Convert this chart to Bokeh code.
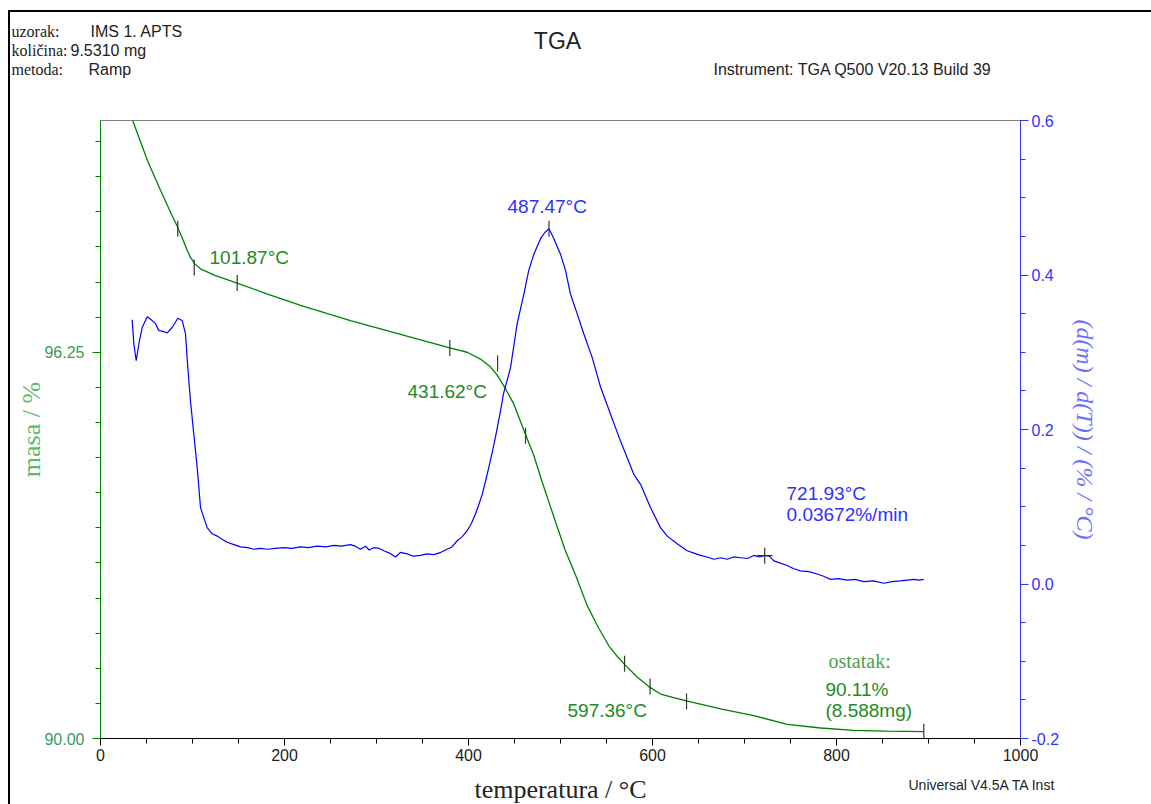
import math
from bokeh.plotting import figure
from bokeh.layouts import column
from bokeh.models import Range1d, LinearAxis, FixedTicker, NumeralTickFormatter, Label
from bokeh.embed import file_html
from bokeh.resources import INLINE

# ---------------- data ----------------
# TGA mass curve: temperature (°C) and mass (%)
tga_temp = [34.4, 35.5, 50.8, 65.2, 77.9, 84.0, 90.0, 94.2, 98.0, 102.5,
            108.7, 125.0, 148.6, 180.0, 217.4, 271.7, 326.1, 379.7, 398.5, 413.0,
            424.0, 431.2, 440.2, 449.3, 462.0, 471.0, 480.1, 492.0, 505.0, 517.0,
            529.0, 541.0, 552.5, 561.0, 569.6, 583.0, 596.0, 608.7, 622.0, 637.0,
            673.9, 710.1, 746.4, 782.6, 818.8, 855.1, 894.9]
tga_mass = [100.03, 99.98, 99.36, 98.87, 98.46, 98.27, 98.06, 97.90, 97.78, 97.68,
            97.60, 97.49, 97.37, 97.20, 97.01, 96.76, 96.54, 96.32, 96.25, 96.14,
            96.01, 95.88, 95.66, 95.41, 94.92, 94.58, 94.15, 93.62, 93.05, 92.62,
            92.15, 91.80, 91.50, 91.34, 91.20, 91.00, 90.84, 90.72, 90.665, 90.61,
            90.48, 90.37, 90.23, 90.17, 90.13, 90.12, 90.11]

# DTG curve: temperature (°C) and d(m)/d(T) (%/°C)
dtg_temp = [34.4, 36.2, 38.8, 41.7, 45.3, 50.8, 56.2, 59.8, 63.4, 68.0,
            72.5, 77.9, 84.0, 88.8, 92.4, 94.9, 97.8, 101.4, 105.1, 108.7,
            112.3, 115.9, 121.4, 126.8, 132.0, 137.7, 145.0, 152.2, 160.0, 166.7,
            174.0, 181.2, 190.0, 199.3, 208.0, 217.4, 226.0, 235.5, 245.0, 253.6,
            262.0, 271.7, 277.0, 282.6, 288.0, 292.0, 297.1, 303.0, 308.0, 314.0,
            320.7, 326.0, 333.4, 340.0, 347.8, 355.0, 362.3, 370.0, 376.8, 382.0,
            387.7, 393.0, 398.6, 403.0, 407.6, 411.0, 414.9, 418.5, 422.1, 425.7,
            429.3, 434.8, 438.0, 445.7, 452.9, 460.1, 465.5, 471.0, 478.3, 483.0,
            487.5, 492.8, 500.0, 505.4, 510.9, 518.1, 525.3, 534.5, 543.5, 554.3,
            565.2, 579.7, 587.0, 597.8, 608.7, 616.0, 626.8, 637.7, 645.0, 652.2,
            659.0, 666.7, 674.0, 681.2, 688.0, 695.7, 703.0, 710.1, 716.0, 721.9,
            727.0, 731.9, 739.0, 746.4, 753.0, 760.9, 770.0, 779.0, 786.0, 793.5,
            802.0, 811.6, 820.0, 829.7, 840.0, 851.4, 860.0, 869.6, 877.0, 884.1,
            890.0, 894.9]
dtg_rate = [0.342, 0.311, 0.289, 0.311, 0.332, 0.346, 0.341, 0.337, 0.328, 0.327,
            0.325, 0.332, 0.344, 0.341, 0.324, 0.280, 0.237, 0.194, 0.151, 0.099,
            0.086, 0.073, 0.065, 0.062, 0.058, 0.054, 0.051, 0.048, 0.047, 0.045,
            0.046, 0.045, 0.046, 0.047, 0.046, 0.048, 0.047, 0.049, 0.048, 0.050,
            0.049, 0.051, 0.049, 0.045, 0.049, 0.044, 0.047, 0.046, 0.043, 0.040,
            0.035, 0.041, 0.039, 0.036, 0.037, 0.039, 0.038, 0.041, 0.045, 0.048,
            0.056, 0.061, 0.069, 0.078, 0.091, 0.102, 0.116, 0.133, 0.151, 0.170,
            0.190, 0.224, 0.246, 0.280, 0.337, 0.375, 0.406, 0.427, 0.447, 0.455,
            0.460, 0.447, 0.427, 0.406, 0.375, 0.350, 0.324, 0.293, 0.255, 0.220,
            0.185, 0.142, 0.129, 0.099, 0.073, 0.062, 0.052, 0.043, 0.040, 0.037,
            0.035, 0.032, 0.034, 0.032, 0.035, 0.034, 0.033, 0.037, 0.035, 0.037,
            0.036, 0.030, 0.027, 0.024, 0.020, 0.017, 0.016, 0.013, 0.010, 0.006,
            0.007, 0.005, 0.006, 0.003, 0.004, 0.001, 0.003, 0.004, 0.005, 0.006,
            0.005, 0.006]

# analysis marks on the TGA curve
tga_mark_temp = [84.0, 101.87, 148.6, 379.7, 431.62, 462.0, 569.6, 597.36, 637.0, 894.9]
tga_mark_mass = [98.25, 97.62, 97.37, 96.32, 96.07, 94.90, 91.21, 90.84, 90.60, 90.11]
# analysis marks on the DTG curve
dtg_peak_temp = [487.47]
dtg_peak_rate = [0.460]
dtg_point_temp = [721.93]
dtg_point_rate = [0.03672]

# tick values
x_major = [0, 200, 400, 600, 800, 1000]
x_minor = [0, 50, 100, 150, 200, 250, 300, 350, 400, 450, 500,
           550, 600, 650, 700, 750, 800, 850, 900, 950, 1000]
mass_major = [90.00, 96.25]
mass_minor = [round(90 + k * 6.25 / 11, 4) for k in range(18)]
dtg_major = [-0.2, 0.0, 0.2, 0.4, 0.6]
dtg_minor = [round(-0.2 + 0.05 * k, 3) for k in range(17)]

GREEN = "#008000"
GREEN_TXT = "#228b22"
BLUE = "#0000ff"
BLUE_TXT = "#3030ff"
SANS = "Liberation Sans"
SERIF = "Liberation Serif"
W = 1141

# ---------------- header strip ----------------
head = figure(width=W, height=98, min_border=0, x_range=Range1d(0, 1), y_range=Range1d(0, 1),
              x_axis_location=None, y_axis_location=None,
              output_backend="svg", toolbar_location=None)
head.grid.visible = False
head.outline_line_color = None
head.frame_align = False


def slabel(fig, sx, sy, text, font=SANS, size="16px", color="#222222", align="left"):
    fig.add_layout(Label(x=sx, y=sy, x_units="screen", y_units="screen", text=text,
                         text_font=font, text_font_size=size, text_color=color,
                         text_baseline="middle", text_align=align))


slabel(head, 1, 79, "uzorak:", font=SERIF)
slabel(head, 80, 79, "IMS 1. APTS")
slabel(head, 1, 60, "količina:", font=SERIF)
slabel(head, 60, 60, "9.5310 mg")
slabel(head, 1, 41, "metoda:", font=SERIF)
slabel(head, 78, 41, "Ramp")
slabel(head, 547, 70, "TGA", size="23px", align="center")
slabel(head, 703, 41, "Instrument: TGA Q500 V20.13 Build 39")

# ---------------- main figure ----------------
p = figure(frame_width=920, frame_height=618,
           min_border_left=90, min_border_right=131,
           min_border_top=10, min_border_bottom=66,
           x_range=Range1d(0, 1000), y_range=Range1d(90, 100),
           output_backend="svg", toolbar_location=None)
p.extra_y_ranges = {"dtg": Range1d(-0.2, 0.6)}
p.xgrid.visible = False
p.ygrid.visible = False
p.outline_line_color = "#808080"
p.background_fill_color = "white"
p.border_fill_color = "white"

# x axis
xa = p.xaxis[0]
xa.ticker = FixedTicker(ticks=x_major, minor_ticks=x_minor)
xa.axis_line_color = "black"
xa.major_tick_line_color = "black"
xa.minor_tick_line_color = "black"
xa.major_tick_in = 0
xa.major_tick_out = 7
xa.minor_tick_in = 0
xa.minor_tick_out = 5
xa.major_label_standoff = 3
xa.major_label_text_font = SANS
xa.major_label_text_font_size = "16px"
xa.major_label_text_color = "#222222"
xa.axis_label = "temperatura / °C"
xa.axis_label_text_font = SERIF
xa.axis_label_text_font_style = "normal"
xa.axis_label_text_font_size = "26px"
xa.axis_label_text_color = "#222222"
xa.axis_label_standoff = 11

# left axis (mass)
ya = p.yaxis[0]
ya.ticker = FixedTicker(ticks=mass_major, minor_ticks=mass_minor)
ya.formatter = NumeralTickFormatter(format="0.00")
ya.axis_line_color = GREEN
ya.major_tick_line_color = GREEN
ya.minor_tick_line_color = GREEN
ya.major_tick_in = 0
ya.major_tick_out = 8
ya.minor_tick_in = 0
ya.minor_tick_out = 5
ya.major_label_standoff = 8
ya.major_label_text_font = SANS
ya.major_label_text_font_size = "16px"
ya.major_label_text_color = "#3a9a5c"
ya.axis_label = "masa / %"
ya.axis_label_text_font = SERIF
ya.axis_label_text_font_style = "normal"
ya.axis_label_text_font_size = "26px"
ya.axis_label_text_color = "#5fb86a"
ya.axis_label_standoff = -5

# right axis (DTG)
ra = LinearAxis(y_range_name="dtg",
                ticker=FixedTicker(ticks=dtg_major, minor_ticks=dtg_minor),
                formatter=NumeralTickFormatter(format="0.0"))
ra.axis_line_color = "#3333ff"
ra.major_tick_line_color = "#3333ff"
ra.minor_tick_line_color = "#3333ff"
ra.major_tick_in = 0
ra.major_tick_out = 8
ra.minor_tick_in = 0
ra.minor_tick_out = 5
ra.major_label_standoff = 3
ra.major_label_text_font = SANS
ra.major_label_text_font_size = "16px"
ra.major_label_text_color = "#3333ff"
ra.axis_label = "(d(m) / d(T)) / (% / °C)"
ra.axis_label_text_font = SERIF
ra.axis_label_text_font_style = "italic"
ra.axis_label_text_font_size = "24px"
ra.axis_label_text_color = "#6e6eff"
ra.axis_label_standoff = 10
p.add_layout(ra, "right")

# ---------------- curves ----------------
p.line(tga_temp, tga_mass, line_color=GREEN, line_width=1.3)
p.line(dtg_temp, dtg_rate, line_color=BLUE, line_width=1.2, y_range_name="dtg")

# analysis marks
p.scatter(tga_mark_temp, tga_mark_mass, marker="dash", angle=math.pi / 2,
          size=16, line_color="#333333", line_width=1.2)
p.scatter(dtg_peak_temp, dtg_peak_rate, marker="dash", angle=math.pi / 2,
          size=16, line_color="#333333", line_width=1.2, y_range_name="dtg")
p.scatter(dtg_point_temp, dtg_point_rate, marker="cross",
          size=16, line_color="#333333", line_width=1.2, y_range_name="dtg")


# ---------------- annotations on the curves ----------------
def dlabel(x, y, text, color, font=SANS, size="19px", rng="default"):
    p.add_layout(Label(x=x, y=y, text=text, text_color=color, text_font=font,
                       text_font_size=size, text_baseline="middle",
                       text_align="left", y_range_name=rng))


dlabel(118.5, 97.78, "101.87°C", GREEN_TXT)
dlabel(333.7, 95.61, "431.62°C", GREEN_TXT)
dlabel(507.6, 90.45, "597.36°C", GREEN_TXT)
dlabel(791.3, 91.26, "ostatak:", "#4ea04e", font=SERIF, size="20px")
dlabel(788.0, 90.79, "90.11%", GREEN_TXT)
dlabel(788.0, 90.45, "(8.588mg)", GREEN_TXT)
dlabel(442.4, 0.4886, "487.47°C", BLUE_TXT, rng="dtg")
dlabel(745.7, 0.1168, "721.93°C", BLUE_TXT, rng="dtg")
dlabel(745.7, 0.0896, "0.03672%/min", BLUE_TXT, rng="dtg")

# ---------------- footer strip (overlaps the bottom band of the main figure) ----------------
foot = figure(width=W, height=30, min_border=0, x_range=Range1d(0, 1), y_range=Range1d(0, 1),
              x_axis_location=None, y_axis_location=None,
              output_backend="svg", toolbar_location=None, margin=(-30, 0, 0, 0))
foot.grid.visible = False
foot.outline_line_color = None
foot.background_fill_alpha = 0
foot.border_fill_alpha = 0
foot.frame_align = False
slabel(foot, 898, 22, "Universal V4.5A TA Inst", size="14px")

layout = column(head, p, foot, margin=(10, 0, 0, 8),
                styles={"border-left": "2px solid #000", "border-top": "2px solid #000"})

open("out.html", "w").write(file_html(layout, INLINE))
